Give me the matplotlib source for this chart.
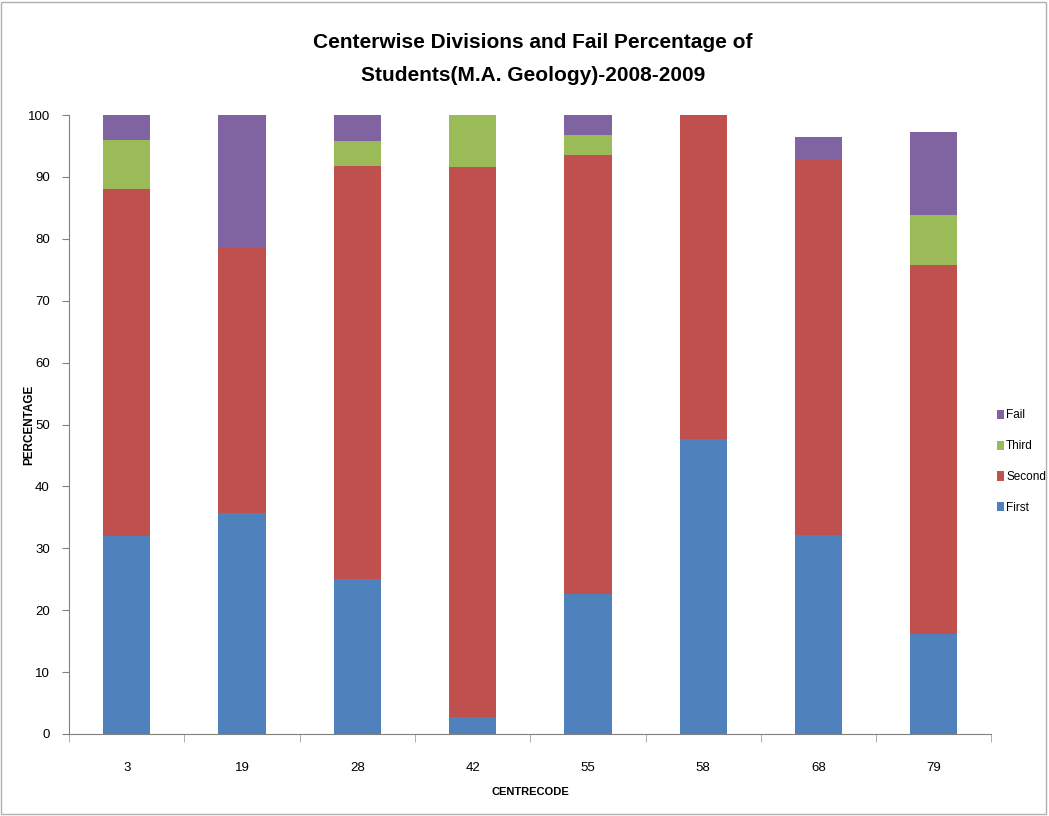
import numpy as np
import matplotlib
matplotlib.use("Agg")
from matplotlib import pyplot as plt
from matplotlib.patches import Rectangle

plt.rcParams['font.family'] = ['Liberation Sans', 'DejaVu Sans']

# data
centres = ['3', '19', '28', '42', '55', '58', '68', '79']
first = [32.0, 35.7, 25.0, 2.7, 22.6, 47.6, 32.1, 16.2]
second = [56.0, 42.9, 66.7, 88.9, 71.0, 52.4, 60.7, 59.5]
third = [8.0, 0.0, 4.1, 8.4, 3.2, 0.0, 0.0, 8.1]
fail = [4.0, 21.4, 4.2, 0.0, 3.2, 0.0, 3.6, 13.5]

colors = ['#4F81BD', '#C0504D', '#9BBB59', '#8064A2']
names = ['First', 'Second', 'Third', 'Fail']

fig = plt.figure(figsize=(10.49, 8.16), dpi=100)
ax = fig.add_axes([0.066, 0.1005, 0.879, 0.7585])

x = np.arange(len(centres))
bottom = np.zeros(len(centres))
handles = []
for vals, c, n in zip([first, second, third, fail], colors, names):
    b = ax.bar(x, vals, 0.41, bottom=bottom, color=c, label=n)
    handles.append(b)
    bottom += np.array(vals)

ax.set_xlim(-0.5, len(centres) - 0.5)
ax.set_ylim(0, 100)
ax.set_yticks(range(0, 101, 10))
ax.set_xticks(x)
ax.set_xticklabels(centres, fontsize=9.5)
ax.set_xticks(np.arange(-0.5, len(centres)), minor=True)
ax.tick_params(axis='x', which='major', length=0, pad=20)
ax.tick_params(axis='x', which='minor', length=6, color='#a0a0a0')
ax.tick_params(axis='y', labelsize=9.5, length=5, color='#808080', pad=9)

for s in ['top', 'right']:
    ax.spines[s].set_visible(False)
ax.spines['left'].set_color('#808080')
ax.spines['bottom'].set_color('#808080')

ax.set_xlabel('CENTRECODE', fontsize=8, fontweight='bold')
ax.set_ylabel('PERCENTAGE', fontsize=8.5, fontweight='bold')
ax.xaxis.set_label_coords(0.5, -0.085)
ax.yaxis.set_label_coords(-0.037, 0.5)

fig.text(0.508, 0.928, 'Centerwise Divisions and Fail Percentage of\nStudents(M.A. Geology)-2008-2009',
         ha='center', va='center', fontsize=15, fontweight='bold', linespacing=1.9)

leg = ax.legend(handles[::-1], names[::-1], loc='center left', bbox_to_anchor=(0.997, 0.44),
                frameon=False, fontsize=8.5, handlelength=0.6, handleheight=0.8,
                handletextpad=0.2, labelspacing=1.6, borderaxespad=0.3)

fig.patches.append(Rectangle((0.001, 0.002), 0.996, 0.996, transform=fig.transFigure,
                             fill=False, edgecolor='#b0b0b0', linewidth=1))

fig.savefig('out.png', dpi=100)
